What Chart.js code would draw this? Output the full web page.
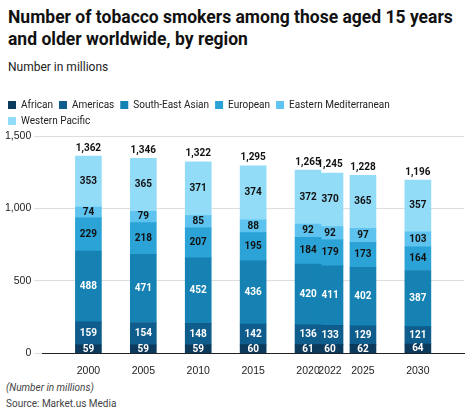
<!DOCTYPE html>
<html><head><meta charset="utf-8">
<script src="https://cdn.jsdelivr.net/npm/chart.js@4"></script>
<style>
body{margin:0;background:#fff;font-family:Roboto,sans-serif;width:474px;height:414px;overflow:hidden}
h1{font-size:17.5px;font-weight:700;margin:0;padding:6px 8px 0 8px;line-height:22px;color:#111}
.sub{font-size:12px;color:#222;padding:10px 8px 0 8px}
#wrap{position:absolute;left:0;top:94px;width:474px;height:286px}
.foot{position:absolute;left:6px;font-size:10px;color:#444}
</style></head><body>
<h1>Number of tobacco smokers among those aged 15 years<br>and older worldwide, by region</h1>
<div class="sub">Number in millions</div>
<div id="wrap"><canvas id="c"></canvas></div>
<div class="foot" style="top:382px;font-style:italic">(Number in millions)</div>
<div class="foot" style="top:398px">Source: Market.us Media</div>
<script>
const years = [2000, 2005, 2010, 2015, 2020, 2022, 2025, 2030];
const african = [59, 59, 59, 60, 61, 60, 62, 64];
const americas = [159, 154, 148, 142, 136, 133, 129, 121];
const seAsian = [488, 471, 452, 436, 420, 411, 402, 387];
const european = [229, 218, 207, 195, 184, 179, 173, 164];
const eastMed = [74, 79, 85, 88, 92, 92, 97, 103];
const westPac = [353, 365, 371, 374, 372, 370, 365, 357];
const yTicks = [0, 500, 1000, 1500];

const series = [
  ['African', african, '#0b3a5c'],
  ['Americas', americas, '#0f5d8c'],
  ['South-East Asian', seAsian, '#1582b3'],
  ['European', european, '#2ba3d6'],
  ['Eastern Mediterranean', eastMed, '#5ec3ee'],
  ['Western Pacific', westPac, '#93dcf8']
];

const labelPlugin = {
  id: 'labels',
  afterDatasetsDraw(chart) {
    const ctx = chart.ctx;
    ctx.save();
    ctx.textAlign = 'center';
    ctx.textBaseline = 'middle';
    ctx.font = 'bold 10px Roboto';
    chart.data.datasets.forEach((ds, di) => {
      chart.getDatasetMeta(di).data.forEach((bar, i) => {
        const y = di === 0 ? bar.y + (bar.base - bar.y) * 0.55 : (bar.y + bar.base) / 2;
        ctx.fillStyle = di < 3 ? '#fff' : '#111';
        ctx.fillText(ds.data[i].y, bar.x, y);
      });
    });
    const top = chart.getDatasetMeta(chart.data.datasets.length - 1).data;
    ctx.fillStyle = '#111';
    top.forEach((bar, i) => {
      const total = series.reduce((s, d) => s + d[1][i], 0);
      ctx.fillText(total.toLocaleString('en-US'), bar.x, bar.y - 8);
    });
    ctx.restore();
  }
};

new Chart(document.getElementById('c'), {
  type: 'bar',
  data: {
    datasets: series.map(([label, vals, color]) => ({
      label,
      data: years.map((x, i) => ({ x, y: vals[i] })),
      backgroundColor: color,
      barThickness: 26
    }))
  },
  options: {
    responsive: true,
    maintainAspectRatio: false,
    animation: false,
    layout: { padding: { left: 2, right: 10, top: 0 } },
    plugins: {
      legend: {
        align: 'start',
        labels: { boxWidth: 8, boxHeight: 8, padding: 6, color: '#222', font: { size: 10, family: 'Roboto' } }
      },
      tooltip: { enabled: false }
    },
    scales: {
      x: {
        type: 'linear', stacked: true, min: 1998.2, max: 2031.8,
        afterBuildTicks: s => { s.ticks = years.map(v => ({ value: v })); },
        ticks: { callback: v => v, color: '#222', font: { size: 10.5 }, maxRotation: 0 },
        grid: { display: false },
        border: { color: '#222' }
      },
      y: {
        stacked: true, min: 0, max: 1500,
        afterBuildTicks: s => { s.ticks = yTicks.map(v => ({ value: v })); },
        ticks: { callback: v => v.toLocaleString('en-US'), color: '#222', font: { size: 10.5 } },
        grid: { color: '#ddd' },
        border: { display: false }
      }
    }
  },
  plugins: [labelPlugin]
});
</script>
</body></html>
